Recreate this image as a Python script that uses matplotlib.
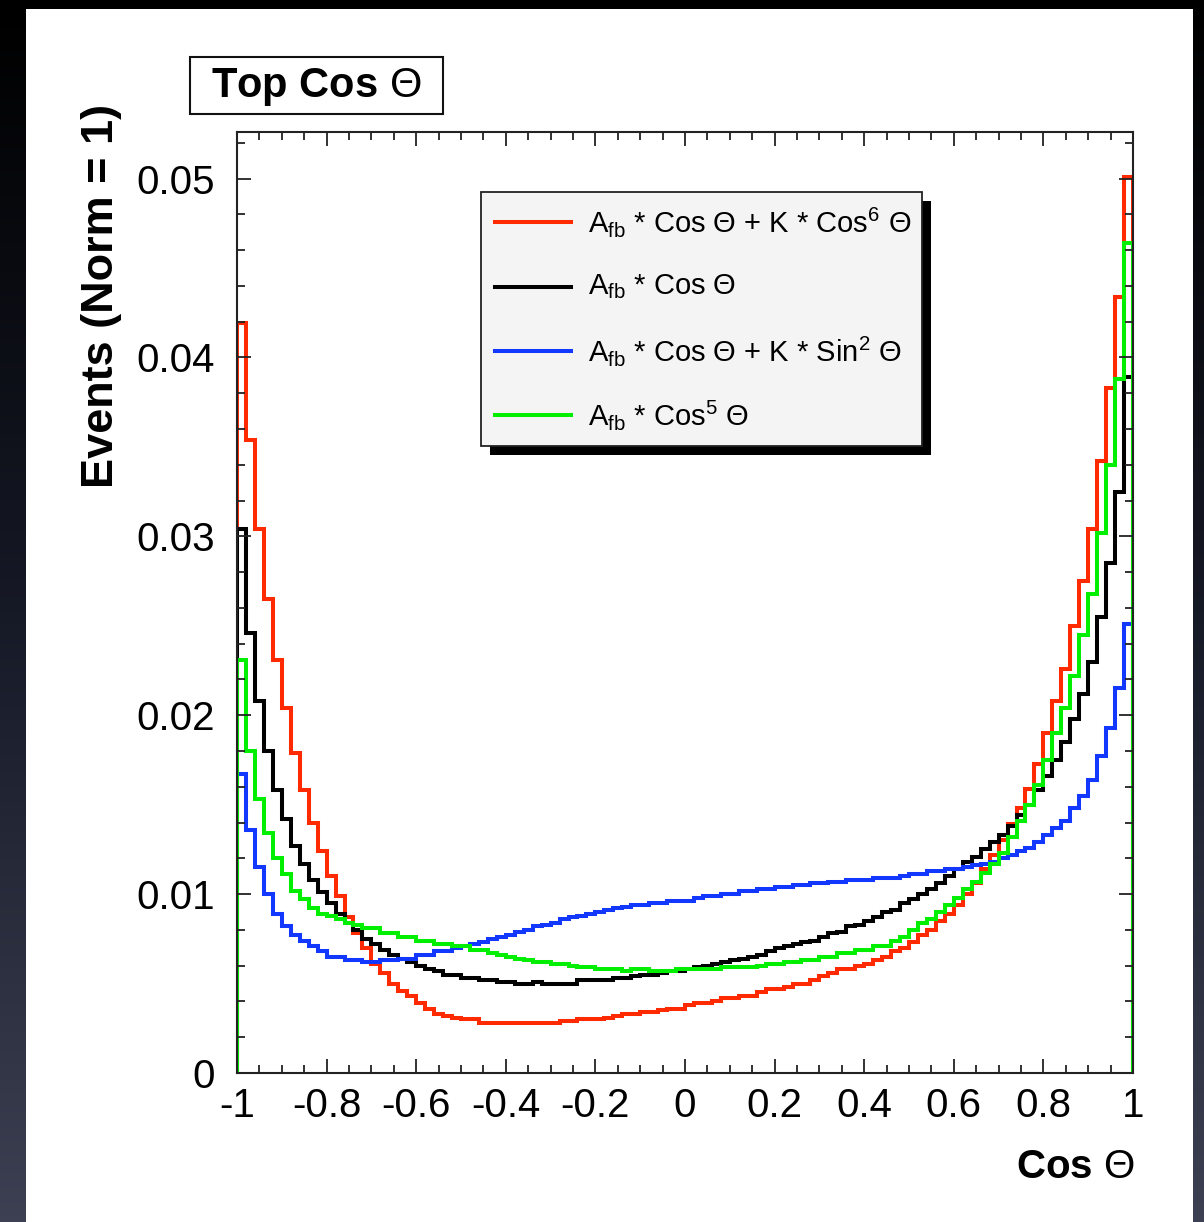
import matplotlib
matplotlib.use("Agg")
import matplotlib.pyplot as plt
import numpy as np
from matplotlib.patches import Rectangle
from matplotlib.lines import Line2D
from matplotlib.colors import LinearSegmentedColormap
from matplotlib.ticker import FixedLocator, MultipleLocator

plt.rcParams['font.family'] = ['Liberation Sans', 'DejaVu Sans']
plt.rcParams['axes.unicode_minus'] = False
plt.rcParams['mathtext.fontset'] = 'custom'
plt.rcParams['mathtext.rm'] = 'Liberation Sans'
plt.rcParams['mathtext.it'] = 'Liberation Sans:italic'
plt.rcParams['mathtext.bf'] = 'Liberation Sans:bold'

# 100 bins in cos(theta), normalised to 1
n_bins = 100
x_min, x_max = -1.0, 1.0

red_cos6 = [0.0419, 0.0354, 0.0304, 0.0265, 0.0231, 0.0204, 0.0179, 0.0158, 0.0140, 0.0124,
            0.0110, 0.0099, 0.0087, 0.0078, 0.0070, 0.0061, 0.0056, 0.0050, 0.0046, 0.0043,
            0.0039, 0.0036, 0.0033, 0.0032, 0.0031, 0.0030, 0.0030, 0.0028, 0.0028, 0.0028,
            0.0028, 0.0028, 0.0028, 0.0028, 0.0028, 0.0028, 0.0029, 0.0029, 0.0030, 0.0030,
            0.0030, 0.0031, 0.0032, 0.0033, 0.0033, 0.0034, 0.0034, 0.0035, 0.0036, 0.0036,
            0.0038, 0.0039, 0.0039, 0.0040, 0.0042, 0.0042, 0.0043, 0.0043, 0.0045, 0.0047,
            0.0047, 0.0048, 0.0050, 0.0050, 0.0052, 0.0054, 0.0056, 0.0058, 0.0058, 0.0060,
            0.0061, 0.0063, 0.0065, 0.0068, 0.0070, 0.0073, 0.0077, 0.0080, 0.0085, 0.0089,
            0.0094, 0.0100, 0.0106, 0.0114, 0.0122, 0.0130, 0.0139, 0.0148, 0.0159, 0.0173,
            0.0190, 0.0208, 0.0226, 0.0250, 0.0275, 0.0304, 0.0342, 0.0383, 0.0434, 0.0501]

black_cos = [0.0304, 0.0246, 0.0208, 0.0180, 0.0158, 0.0142, 0.0127, 0.0117, 0.0108, 0.0101,
             0.0095, 0.0089, 0.0084, 0.0080, 0.0075, 0.0072, 0.0069, 0.0066, 0.0064, 0.0062,
             0.0060, 0.0058, 0.0057, 0.0055, 0.0055, 0.0053, 0.0053, 0.0052, 0.0052, 0.0051,
             0.0051, 0.0050, 0.0050, 0.0051, 0.0050, 0.0050, 0.0050, 0.0050, 0.0052, 0.0052,
             0.0052, 0.0052, 0.0053, 0.0053, 0.0054, 0.0055, 0.0055, 0.0056, 0.0057, 0.0057,
             0.0058, 0.0059, 0.0060, 0.0061, 0.0062, 0.0063, 0.0064, 0.0065, 0.0066, 0.0068,
             0.0070, 0.0071, 0.0072, 0.0073, 0.0074, 0.0076, 0.0078, 0.0079, 0.0082, 0.0083,
             0.0085, 0.0087, 0.0090, 0.0091, 0.0095, 0.0097, 0.0100, 0.0103, 0.0106, 0.0110,
             0.0114, 0.0118, 0.0121, 0.0125, 0.0129, 0.0133, 0.0138, 0.0144, 0.0150, 0.0158,
             0.0166, 0.0175, 0.0185, 0.0198, 0.0212, 0.0230, 0.0255, 0.0285, 0.0325, 0.0389]

blue_sin2 = [0.0167, 0.0136, 0.0115, 0.0100, 0.0089, 0.0082, 0.0077, 0.0074, 0.0071, 0.0068,
             0.0065, 0.0065, 0.0063, 0.0063, 0.0062, 0.0062, 0.0063, 0.0063, 0.0064, 0.0064,
             0.0066, 0.0066, 0.0068, 0.0068, 0.0070, 0.0071, 0.0072, 0.0073, 0.0075, 0.0076,
             0.0077, 0.0079, 0.0080, 0.0082, 0.0083, 0.0084, 0.0086, 0.0087, 0.0088, 0.0089,
             0.0090, 0.0091, 0.0092, 0.0093, 0.0094, 0.0094, 0.0095, 0.0095, 0.0096, 0.0096,
             0.0096, 0.0098, 0.0099, 0.0099, 0.0100, 0.0100, 0.0102, 0.0102, 0.0103, 0.0103,
             0.0104, 0.0104, 0.0105, 0.0105, 0.0106, 0.0106, 0.0107, 0.0107, 0.0108, 0.0108,
             0.0108, 0.0109, 0.0109, 0.0109, 0.0110, 0.0111, 0.0111, 0.0113, 0.0113, 0.0114,
             0.0114, 0.0115, 0.0116, 0.0117, 0.0118, 0.0120, 0.0122, 0.0124, 0.0126, 0.0129,
             0.0133, 0.0137, 0.0141, 0.0148, 0.0155, 0.0164, 0.0177, 0.0193, 0.0215, 0.0251]

green_cos5 = [0.0231, 0.0180, 0.0153, 0.0134, 0.0120, 0.0111, 0.0102, 0.0097, 0.0092, 0.0089,
              0.0088, 0.0086, 0.0084, 0.0083, 0.0081, 0.0081, 0.0078, 0.0078, 0.0076, 0.0076,
              0.0074, 0.0074, 0.0072, 0.0072, 0.0071, 0.0071, 0.0069, 0.0069, 0.0067, 0.0066,
              0.0065, 0.0064, 0.0063, 0.0062, 0.0062, 0.0061, 0.0061, 0.0060, 0.0059, 0.0059,
              0.0058, 0.0058, 0.0058, 0.0057, 0.0058, 0.0058, 0.0057, 0.0057, 0.0057, 0.0058,
              0.0058, 0.0058, 0.0058, 0.0058, 0.0059, 0.0059, 0.0059, 0.0059, 0.0060, 0.0061,
              0.0061, 0.0062, 0.0062, 0.0063, 0.0063, 0.0065, 0.0065, 0.0067, 0.0067, 0.0069,
              0.0069, 0.0071, 0.0071, 0.0074, 0.0076, 0.0080, 0.0084, 0.0086, 0.0090, 0.0094,
              0.0098, 0.0103, 0.0107, 0.0112, 0.0117, 0.0123, 0.0132, 0.0141, 0.0150, 0.0161,
              0.0175, 0.0190, 0.0204, 0.0222, 0.0245, 0.0268, 0.0302, 0.0340, 0.0388, 0.0464]

series = [
    (red_cos6, '#ff2a00', r'A$_{\mathrm{fb}}$ * Cos $\Theta$ + K * Cos$^{6}$ $\Theta$'),
    (black_cos, '#000000', r'A$_{\mathrm{fb}}$ * Cos $\Theta$'),
    (blue_sin2, '#1238ff', r'A$_{\mathrm{fb}}$ * Cos $\Theta$ + K * Sin$^{2}$ $\Theta$'),
    (green_cos5, '#00ee00', r'A$_{\mathrm{fb}}$ * Cos$^{5}$ $\Theta$'),
]

W, H = 1204, 1222


def fx(x):
    return x / W


def fy(y):
    return 1 - y / H


fig = plt.figure(figsize=(W / 100, H / 100), dpi=100)

# dark slide background + white panel
bg = fig.add_axes([0, 0, 1, 1])
bg.axis('off')
cmap = LinearSegmentedColormap.from_list('bg', ['#000000', '#161926', '#3c4052'])
bg.imshow(np.linspace(0, 1, 256)[:, None], cmap=cmap, aspect='auto', extent=[0, 1, 0, 1])
fig.add_artist(Rectangle((fx(26), 0), fx(1193) - fx(26), fy(9), transform=fig.transFigure,
                         facecolor='white', edgecolor='none', zorder=0.5))

ax = fig.add_axes([fx(237), fy(1073), fx(1133) - fx(237), fy(132) - fy(1073)])
ax.set_zorder(2)

edges = np.linspace(x_min, x_max, n_bins + 1)
for vals, col, lab in series:
    ax.stairs(vals, edges, color=col, linewidth=2.9)

ax.set_xlim(x_min, x_max)
ax.set_ylim(0, 0.0526)

xt = np.round(np.arange(-1, 1.01, 0.2), 2) + 0.0
yt = np.round(np.arange(0, 0.051, 0.01), 3) + 0.0
ax.xaxis.set_major_locator(FixedLocator(xt))
ax.yaxis.set_major_locator(FixedLocator(yt))
ax.set_xticklabels(['%g' % v for v in xt])
ax.set_yticklabels(['%g' % v for v in yt])
ax.xaxis.set_minor_locator(MultipleLocator(0.05))
ax.yaxis.set_minor_locator(MultipleLocator(0.002))

ax.tick_params(which='both', direction='in', top=True, right=True, color='#222222', width=1.3)
ax.tick_params(which='major', length=10, labelsize=29)
ax.tick_params(which='minor', length=5.5)
ax.tick_params(axis='x', pad=10)
ax.tick_params(axis='y', pad=16)
for s in ax.spines.values():
    s.set_linewidth(1.5)
    s.set_color('#222222')

# axis titles
fig.text(fx(1135), fy(1167), r'Cos $\Theta$', ha='right', va='center', fontsize=29,
         fontweight='bold')
fig.text(fx(102), fy(104), 'Events (Norm = 1)', rotation=90, ha='center', va='top',
         fontsize=32.5, fontweight='bold')

# title box
fig.add_artist(Rectangle((fx(190), fy(114)), fx(443) - fx(190), fy(57) - fy(114),
                         transform=fig.transFigure, facecolor='white', edgecolor='#111111',
                         linewidth=1.5, zorder=3))
fig.text(fx(211), fy(87), r'Top Cos $\Theta$', ha='left', va='center', fontsize=30,
         fontweight='bold', zorder=4)

# legend with shadow
lx0, lx1, ly0, ly1 = 481, 922, 192, 446
fig.add_artist(Rectangle((fx(lx0 + 9), fy(ly1 + 9)), fx(lx1) - fx(lx0), fy(ly0) - fy(ly1),
                         transform=fig.transFigure, facecolor='black', edgecolor='none', zorder=3))
fig.add_artist(Rectangle((fx(lx0), fy(ly1)), fx(lx1) - fx(lx0), fy(ly0) - fy(ly1),
                         transform=fig.transFigure, facecolor='#f4f4f4', edgecolor='#222222',
                         linewidth=1.3, zorder=3.1))
row_y = [222, 287, 351, 415]
for (vals, col, lab), yy in zip(series, row_y):
    fig.add_artist(Line2D([fx(495), fx(571)], [fy(yy), fy(yy)], transform=fig.transFigure,
                          color=col, linewidth=2.9, zorder=3.2))
    fig.text(fx(588), fy(yy), lab, ha='left', va='center', fontsize=21, zorder=3.3)

fig.savefig('out.png', dpi=100)
